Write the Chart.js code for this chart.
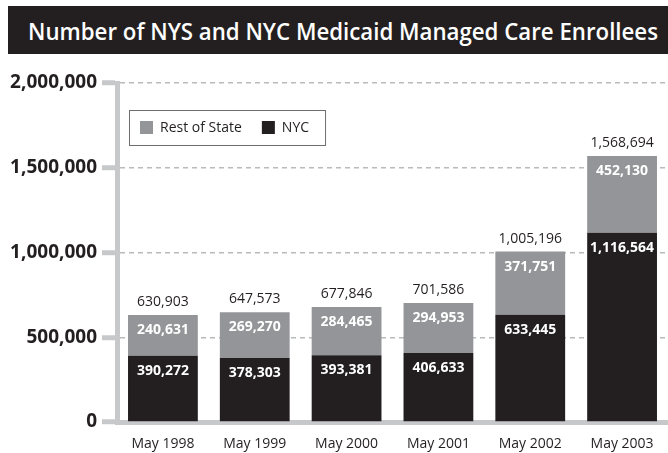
<!DOCTYPE html>
<html>
<head>
<meta charset="utf-8">
<script src="https://cdn.jsdelivr.net/npm/chart.js@4"></script>
<style>
  body { margin: 0; background: #fff; }
  #wrap { position: relative; width: 668px; height: 453px; }
  #title {
    position: absolute; left: 8px; top: 6px; width: 660px; height: 48px;
    background: #231f20; color: #fff; box-sizing: border-box;
    font: 600 24px "Open Sans", sans-serif; line-height: 49px;
    padding-left: 20px; white-space: nowrap; overflow: hidden;
  }
  #title span { display: inline-block; transform-origin: left center; }
  #box { position: absolute; left: 0; top: 0; width: 668px; height: 453px; }
</style>
</head>
<body>
<div id="wrap">
  <div id="title"><span id="titleText">Number of NYS and NYC Medicaid Managed Care Enrollees</span></div>
  <div id="box"><canvas id="myChart"></canvas></div>
</div>
<script>
// data block
const categories = ['May 1998', 'May 1999', 'May 2000', 'May 2001', 'May 2002', 'May 2003'];
const nyc = [390272, 378303, 393381, 406633, 633445, 1116564];
const restOfState = [240631, 269270, 284465, 294953, 371751, 452130];
const totals = [630903, 647573, 677846, 701586, 1005196, 1568694];
const yTicks = [0, 500000, 1000000, 1500000, 2000000];

// squeeze the title into the same width as the original
const tt = document.getElementById('titleText');
tt.style.transform = 'scaleX(' + Math.min(1, 630 / tt.getBoundingClientRect().width) + ')';

const ink = '#231f20';
const fmt = v => v.toLocaleString('en-US');

// value labels plugin block
const barLabels = {
    id: 'barLabels',
    afterDatasetsDraw(chart) {
        const {ctx} = chart;
        ctx.save();
        ctx.textAlign = 'center';
        ctx.textBaseline = 'middle';
        chart.data.datasets.forEach((ds, i) => {
            const meta = chart.getDatasetMeta(i);
            meta.data.forEach((bar, j) => {
                ctx.fillStyle = '#fff';
                ctx.font = 'bold 14px "Open Sans"';
                ctx.fillText(fmt(ds.data[j]), bar.x, bar.y + 15);
                if (i === chart.data.datasets.length - 1) {
                    ctx.fillStyle = ink;
                    ctx.font = '14px "Open Sans"';
                    ctx.fillText(fmt(totals[j]), bar.x, bar.y - 13);
                }
            });
        });
        ctx.restore();
    }
};

// boxed legend plugin block
const boxLegend = {
    id: 'boxLegend',
    afterDraw(chart) {
        const {ctx, chartArea: {left, top}} = chart;
        const items = chart.data.datasets.slice().reverse();
        const x0 = left + 12, y0 = top + 27, h = 35;
        ctx.save();
        ctx.font = '14px "Open Sans"';
        ctx.textBaseline = 'middle';
        let x = x0 + 11;
        const pos = [];
        items.forEach(ds => {
            pos.push(x);
            x += 13 + 7 + ctx.measureText(ds.label).width + 20;
        });
        const w = x - 20 + 16 - x0;
        ctx.fillStyle = '#fff';
        ctx.fillRect(x0, y0, w, h);
        ctx.strokeStyle = '#6d6e71';
        ctx.lineWidth = 1;
        ctx.strokeRect(x0 + 0.5, y0 + 0.5, w, h);
        items.forEach((ds, k) => {
            ctx.fillStyle = ds.backgroundColor;
            ctx.fillRect(pos[k], y0 + 11, 13, 13);
            ctx.fillStyle = ink;
            ctx.fillText(ds.label, pos[k] + 20, y0 + h / 2 + 1);
        });
        ctx.restore();
    }
};

// config block
const config = {
    type: 'bar',
    data: {
        labels: categories,
        datasets: [
            { label: 'NYC', data: nyc, backgroundColor: '#231f20' },
            { label: 'Rest of State', data: restOfState, backgroundColor: '#939598' }
        ]
    },
    options: {
        responsive: false,
        animation: false,
        layout: { padding: { top: 83, left: 0, right: 0, bottom: 0 } },
        datasets: { bar: { categoryPercentage: 1, barPercentage: 0.76 } },
        scales: {
            x: {
                stacked: true,
                afterFit(scale) { scale.height = 31; },
                grid: { drawOnChartArea: false, drawTicks: false },
                border: { color: '#c7c8ca', width: 5 },
                ticks: { color: ink, padding: 14, font: { family: 'Open Sans', size: 14 } }
            },
            y: {
                stacked: true,
                min: 0,
                max: 2000000,
                afterFit(scale) { scale.width = 117; },
                afterBuildTicks(scale) { scale.ticks = yTicks.map(v => ({ value: v })); },
                grid: { color: '#b8babc', lineWidth: 1.5, tickLength: 15, tickWidth: 5, tickColor: '#c7c8ca' },
                border: { color: '#c7c8ca', width: 5, dash: [5, 4] },
                ticks: {
                    color: ink,
                    padding: 5,
                    font: { family: 'Open Sans', size: 19, weight: 'bold' },
                    callback: v => fmt(v)
                }
            }
        },
        plugins: {
            legend: { display: false },
            tooltip: { enabled: false }
        }
    },
    plugins: [barLabels, boxLegend]
};

// init render block
const canvas = document.getElementById('myChart');
canvas.width = 668;
canvas.height = 453;
const myChart = new Chart(canvas, config);
</script>
</body>
</html>
